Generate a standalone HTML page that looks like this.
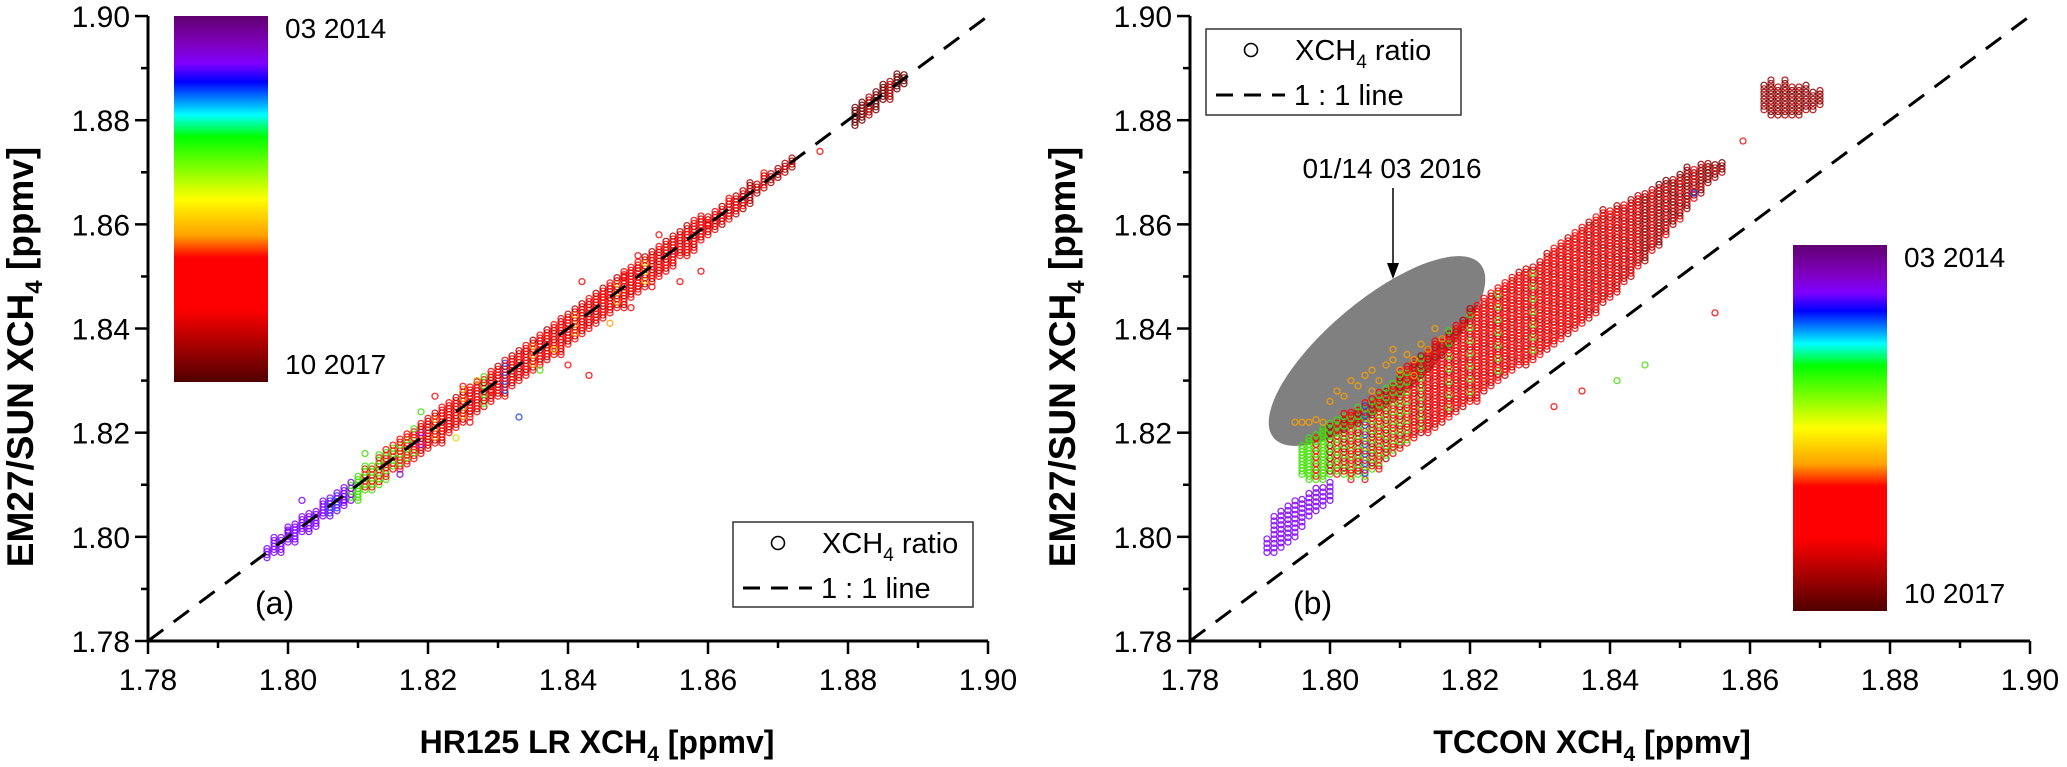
<!DOCTYPE html>
<html><head><meta charset="utf-8"><style>
html,body{margin:0;padding:0;background:#fff;}
svg{display:block;font-family:"Liberation Sans",Arial,sans-serif;}
</style></head><body>
<svg id="fig" width="2067" height="767" viewBox="0 0 2067 767" xmlns="http://www.w3.org/2000/svg">
<defs>
<linearGradient id="cmapA" x1="0" y1="0" x2="0" y2="1">
<stop offset="0" stop-color="#600070"/><stop offset="0.08" stop-color="#8000c0"/><stop offset="0.13" stop-color="#7f00ff"/><stop offset="0.18" stop-color="#0000ff"/><stop offset="0.27" stop-color="#00ffff"/><stop offset="0.33" stop-color="#00ff00"/><stop offset="0.5" stop-color="#ffff00"/><stop offset="0.6" stop-color="#ffa000"/><stop offset="0.66" stop-color="#ff0000"/><stop offset="0.8" stop-color="#ff0000"/><stop offset="1" stop-color="#500000"/>
</linearGradient>
</defs>
<g id="panelA"></g>
<g id="panelB"></g>
</svg>
<script>
// ---------- Panel (a) data ----------
const xTicks = [1.78, 1.80, 1.82, 1.84, 1.86, 1.88, 1.90];
const yTicks = [1.78, 1.80, 1.82, 1.84, 1.86, 1.88, 1.90];
const tickLabels = ["1.78", "1.80", "1.82", "1.84", "1.86", "1.88", "1.90"];
const colXA = [1.797,1.798,1.799,1.800,1.801,1.802,1.803,1.804,1.805,1.806,1.807,1.808,1.809,1.810,1.811,1.812,1.813,1.814,1.815,1.816,1.817,1.818,1.819,1.820,1.821,1.822,1.823,1.824,1.825,1.826,1.827,1.828,1.829,1.830,1.831,1.832,1.833,1.834,1.835,1.836,1.837,1.838,1.839,1.840,1.841,1.842,1.843,1.844,1.845,1.846,1.847,1.848,1.849,1.850,1.851,1.852,1.853,1.854,1.855,1.856,1.857,1.858,1.859,1.860,1.861,1.862,1.863,1.864,1.865,1.866,1.867,1.868,1.869,1.870,1.871,1.872,1.881,1.882,1.883,1.884,1.885,1.886,1.887,1.888];
const resLoA = [-0.001,-0.001,-0.002,-0.001,-0.002,-0.001,-0.002,-0.002,-0.001,-0.002,-0.002,-0.002,-0.002,-0.003,-0.002,-0.003,-0.003,-0.003,-0.002,-0.003,-0.003,-0.003,-0.003,-0.003,-0.003,-0.004,-0.003,-0.003,-0.003,-0.003,-0.003,-0.003,-0.003,-0.003,-0.004,-0.003,-0.003,-0.003,-0.003,-0.003,-0.003,-0.003,-0.004,-0.003,-0.003,-0.003,-0.003,-0.003,-0.003,-0.003,-0.003,-0.004,-0.003,-0.003,-0.003,-0.003,-0.003,-0.003,-0.003,-0.002,-0.003,-0.003,-0.002,-0.002,-0.002,-0.002,-0.002,-0.002,-0.002,-0.002,-0.001,-0.001,-0.001,-0.001,-0.001,-0.001,-0.002,-0.002,-0.002,-0.002,-0.001,-0.002,-0.001,-0.001];
const resHiA = [0.001,0.002,0.001,0.002,0.002,0.002,0.002,0.001,0.002,0.002,0.002,0.002,0.002,0.002,0.003,0.002,0.003,0.003,0.003,0.003,0.003,0.003,0.003,0.003,0.003,0.003,0.003,0.003,0.004,0.003,0.003,0.003,0.003,0.003,0.003,0.003,0.003,0.003,0.003,0.003,0.003,0.003,0.003,0.003,0.003,0.003,0.003,0.003,0.003,0.003,0.003,0.003,0.003,0.003,0.003,0.003,0.003,0.003,0.003,0.003,0.003,0.003,0.003,0.002,0.002,0.002,0.002,0.002,0.002,0.002,0.001,0.002,0.001,0.001,0.001,0.001,0.002,0.002,0.002,0.002,0.002,0.002,0.002,0.001];
const colCodesA = ["p","p","p","p","p","p","p","p","p","pb","pb","p","pg","g","gr","gr","gr","grr","rg","rrg","rrg","rrgr","rdrp","rd","rdo","rdr","rrd","rdr","rdo","rrd","rdr","rgd","rrd","rdr","rdb","rdr","rdr","rrd","rdo","rrd","rdr","rrd","rrd","rdr","rdo","rdr","rrd","rdr","rdr","rrd","rdo","rdr","rrd","rrd","rdy","rdr","rrd","rdr","rdr","rrd","rdr","rrd","rdr","rd","rd","dr","rd","dr","dr","d","d","dr","d","d","d","d","k","k","d","k","k","d","k","k"];
const outXA = [1.800,1.802,1.808,1.811,1.816,1.821,1.824,1.826,1.829,1.833,1.836,1.838,1.840,1.843,1.845,1.846,1.848,1.849,1.850,1.852,1.853,1.856,1.859,1.860,1.863,1.866,1.876,1.819,1.827,1.842];
const outYA = [1.801,1.807,1.807,1.816,1.812,1.827,1.819,1.822,1.828,1.823,1.832,1.836,1.833,1.831,1.846,1.841,1.850,1.844,1.854,1.848,1.858,1.849,1.851,1.860,1.865,1.868,1.874,1.824,1.830,1.849];
const outCA = ["p","p","p","g","p","r","y","r","r","b","g","y","r","r","r","o","r","r","r","r","r","r","r","r","r","d","r","g","o","r"];

// ---------- Panel (b) data ----------
const colXB = [1.796,1.797,1.798,1.799,1.800,1.801,1.802,1.803,1.804,1.805,1.806,1.807,1.808,1.809,1.810,1.811,1.812,1.813,1.814,1.815,1.816,1.817,1.818,1.819,1.820,1.821,1.822,1.823,1.824,1.825,1.826,1.827,1.828,1.829,1.830,1.831,1.832,1.833,1.834,1.835,1.836,1.837,1.838,1.839,1.840,1.841,1.842,1.843,1.844,1.845,1.846,1.847,1.848,1.849,1.850,1.851,1.852,1.853,1.854,1.855,1.856];
const loB = [1.812,1.811,1.811,1.811,1.812,1.812,1.812,1.811,1.812,1.811,1.813,1.813,1.815,1.816,1.817,1.818,1.819,1.820,1.820,1.821,1.822,1.823,1.824,1.825,1.826,1.826,1.828,1.829,1.830,1.831,1.832,1.833,1.833,1.834,1.835,1.836,1.837,1.838,1.839,1.840,1.841,1.842,1.843,1.845,1.846,1.847,1.849,1.850,1.852,1.853,1.855,1.856,1.858,1.860,1.861,1.863,1.865,1.866,1.868,1.869,1.870];
const hiB = [1.818,1.819,1.820,1.821,1.822,1.823,1.824,1.824,1.825,1.826,1.827,1.828,1.829,1.830,1.832,1.833,1.834,1.835,1.836,1.838,1.838,1.840,1.841,1.842,1.844,1.845,1.846,1.847,1.848,1.849,1.850,1.851,1.852,1.852,1.853,1.855,1.856,1.857,1.858,1.859,1.860,1.861,1.862,1.863,1.863,1.864,1.864,1.865,1.866,1.866,1.867,1.868,1.869,1.869,1.870,1.871,1.871,1.872,1.872,1.872,1.872];
const colCodesB = ["g","g","gr","g","gd","rg","grd","rgr","gdr","rgb","grd","rrg","dgr","rgr","rdg","rgr","rrd","drg","rrd","rdr","drr","rrdg","rdr","drr","rdrg","rrd","drr","rdr","rrdg","drr","rdr","rrd","drr","rdrg","rrd","drr","rdr","rrd","drr","rdr","rrd","drd","rdr","drd","rdr","drd","rdd","drd","rdd","dkd","rdd","dkd","rdk","dkd","rdk","dkd","rdk","dkd","dk","dkd","dk"];
const colXBp = [1.791,1.792,1.793,1.794,1.795,1.796,1.797,1.798,1.799,1.800];
const loBp = [1.797,1.797,1.798,1.799,1.800,1.802,1.804,1.805,1.806,1.807];
const hiBp = [1.800,1.804,1.805,1.806,1.807,1.808,1.809,1.810,1.810,1.811];
const colXBt = [1.862,1.863,1.864,1.865,1.866,1.867,1.868,1.869,1.870];
const loBt = [1.882,1.881,1.881,1.881,1.881,1.881,1.882,1.882,1.883];
const hiBt = [1.887,1.888,1.887,1.888,1.887,1.887,1.887,1.886,1.886];
const orXB = [1.795,1.796,1.797,1.798,1.799,1.800,1.801,1.802,1.803,1.804,1.805,1.806,1.807,1.808,1.809,1.810,1.811,1.812,1.813,1.814,1.815,1.816,1.806,1.809,1.812];
const orYB = [1.822,1.822,1.822,1.8225,1.822,1.826,1.828,1.827,1.830,1.829,1.831,1.832,1.830,1.833,1.834,1.832,1.835,1.834,1.837,1.836,1.840,1.838,1.828,1.836,1.831];
const outXB = [1.859,1.855,1.845,1.836,1.832,1.841,1.852,1.877];
const outYB = [1.876,1.843,1.833,1.828,1.825,1.830,1.866,1.836];
const outCB = ["r","r","g","r","r","g","b","g"];

const palette = {p:"#7f00ff",b:"#2040ff",g:"#40e000",y:"#e8d800",o:"#ffa000",r:"#ff0000",d:"#b00000",k:"#700000"};
const NS = "http://www.w3.org/2000/svg";
function mk(parent, tag, attrs, text){
  const e = document.createElementNS(NS, tag);
  for (const k in attrs) e.setAttribute(k, attrs[k]);
  if (text !== undefined) e.textContent = text;
  parent.appendChild(e);
  return e;
}
function makeAxes(x0){
  const X0 = x0, PX = 7000, Y0 = 641, PY = 5208;
  return { sx: v => X0 + (v - 1.78) * PX, sy: v => Y0 - (v - 1.78) * PY };
}
function drawAxes(g, ax, tag){
  const left = ax.sx(1.78), right = ax.sx(1.90), top = ax.sy(1.90), bottom = ax.sy(1.78);
  const ya = mk(g, "line", {x1:left, y1:top, x2:left, y2:bottom+1.5, stroke:"#000","stroke-width":3});
  
  
  const xa = mk(g, "line", {x1:left-1.5, y1:bottom, x2:right, y2:bottom, stroke:"#000","stroke-width":3});
  
  
  for (let i = 0; i < 13; i++){
    const v = 1.78 + i * 0.01;
    const major = i % 2 === 0;
    const L = major ? 13 : 7;
    mk(g, "line", {x1:ax.sx(v), y1:bottom, x2:ax.sx(v), y2:bottom+L, stroke:"#000","stroke-width":2.5});
    mk(g, "line", {x1:left-L, y1:ax.sy(v), x2:left, y2:ax.sy(v), stroke:"#000","stroke-width":2.5});
  }
  xTicks.forEach((v, i) => {
    const t = mk(g, "text", {x:ax.sx(v), y:bottom+49, "font-size":30, "text-anchor":"middle"}, tickLabels[i]);
    
    
  });
  yTicks.forEach((v, i) => {
    const t = mk(g, "text", {x:left-18, y:ax.sy(v)+11, "font-size":30, "text-anchor":"end"}, tickLabels[i]);
    
    
  });
}
function dot(g, x, y, code){
  const c = mk(g, "circle", {cx:x, cy:y, r:3, fill:"none", stroke:palette[code], "stroke-width":1.3, "stroke-opacity":0.85});
  
  
}
function drawColumns(g, ax, xs, los, his, codes, step){
  xs.forEach((xv, i) => {
    const yTop = ax.sy(his[i]), yBot = ax.sy(los[i]);
    const cs = typeof codes === "string" ? codes : codes[i];
    let k = 0;
    for (let y = yBot; y >= yTop - 0.01; y -= step){
      dot(g, ax.sx(xv), y, cs[k % cs.length]);
      k++;
    }
  });
}
function oneToOne(g, ax){
  const l = mk(g, "line", {x1:ax.sx(1.78), y1:ax.sy(1.78), x2:ax.sx(1.90), y2:ax.sy(1.90), stroke:"#000","stroke-width":3,"stroke-dasharray":"19 13"});
  
  
}
function colorbar(g, x, y, h, lab1, lab2){
  const r = mk(g, "rect", {x:x, y:y, width:94, height:h, fill:"url(#cmapA)"});
  
  
  const t1 = mk(g, "text", {x:x+111, y:y+22, "font-size":28}, lab1);
  
  
  const t2 = mk(g, "text", {x:x+111, y:y+h-8, "font-size":28}, lab2);
  
  
}
function legend(g, bx, by, bw, bh){
  const r = mk(g, "rect", {x:bx, y:by, width:bw, height:bh, fill:"#fff", stroke:"#333","stroke-width":1.5});
  
  
  const c = mk(g, "circle", {cx:bx+45, cy:by+21, r:6.5, fill:"none", stroke:"#000","stroke-width":1.6});
  
  
  const t = mk(g, "text", {x:bx+89, y:by+31, "font-size":29});
  
  
  t.innerHTML = 'XCH<tspan font-size="19" dy="8">4</tspan><tspan dy="-8"> ratio</tspan>';
  const l = mk(g, "line", {x1:bx+10, y1:by+66, x2:bx+79, y2:by+66, stroke:"#000","stroke-width":3,"stroke-dasharray":"17 11"});
  
  
  const t2 = mk(g, "text", {x:bx+88, y:by+76, "font-size":29}, "1 : 1 line");
  
  
}
function titles(g, cx, ylx, name){
  const xt = mk(g, "text", {x:cx, y:753, "font-size":32, "font-weight":"bold", "text-anchor":"middle"});
  
  
  xt.innerHTML = name + ' XCH<tspan font-size="21" dy="8">4</tspan><tspan dy="-8"> [ppmv]</tspan>';
  const yt = mk(g, "text", {x:0, y:0, "font-size":37, "font-weight":"bold", "text-anchor":"middle", transform:`translate(${ylx},357) rotate(-90)`});
  
  
  yt.innerHTML = 'EM27/SUN XCH<tspan font-size="24" dy="9">4</tspan><tspan dy="-9"> [ppmv]</tspan>';
}

// ---- Panel A ----
const gA = document.getElementById("panelA");
const axA = makeAxes(148);
colorbar(gA, 174, 16, 366, "03 2014", "10 2017");
const ptsA = mk(gA, "g", {});


drawColumns(ptsA, axA, colXA, colXA.map((x,i)=>x+resLoA[i]), colXA.map((x,i)=>x+resHiA[i]), colCodesA, 3);
outXA.forEach((x,i)=>dot(ptsA, axA.sx(x), axA.sy(outYA[i]), outCA[i]));
oneToOne(gA, axA);
drawAxes(gA, axA, "a");
legend(gA, 733, 522, 240, 85);
const la = mk(gA, "text", {x:255, y:614, "font-size":32}, "(a)");


titles(gA, 597, 33, "HR125 LR");

// ---- Panel B ----
const gB = document.getElementById("panelB");
const axB = makeAxes(1190);
const ell = mk(gB, "ellipse", {cx:1377, cy:351, rx:135, ry:50, fill:"#808080", transform:"rotate(-40 1377 351)"});


const ptsB = mk(gB, "g", {});


drawColumns(ptsB, axB, colXB, loB, hiB, colCodesB, 3.2);
drawColumns(ptsB, axB, colXBp, loBp, hiBp, "p", 4.5);
drawColumns(ptsB, axB, colXBt, loBt, hiBt, "dk", 3.5);
orXB.forEach((x,i)=>dot(ptsB, axB.sx(x), axB.sy(orYB[i]), "o"));
outXB.forEach((x,i)=>dot(ptsB, axB.sx(x), axB.sy(outYB[i]), outCB[i]));
oneToOne(gB, axB);
drawAxes(gB, axB, "b");
colorbar(gB, 1793, 245, 366, "03 2014", "10 2017");
legend(gB, 1206, 29, 255, 86);
const ar = mk(gB, "line", {x1:1393, y1:188, x2:1393, y2:266, stroke:"#000","stroke-width":1.5});


const ah = mk(gB, "path", {d:"M1387 263 L1393 279 L1399 263 Z", fill:"#000"});


const at = mk(gB, "text", {x:1392, y:178, "font-size":28, "text-anchor":"middle"}, "01/14 03 2016");


const lb = mk(gB, "text", {x:1293, y:614, "font-size":32}, "(b)");


titles(gB, 1592, 1075, "TCCON");
</script>
</body></html>
